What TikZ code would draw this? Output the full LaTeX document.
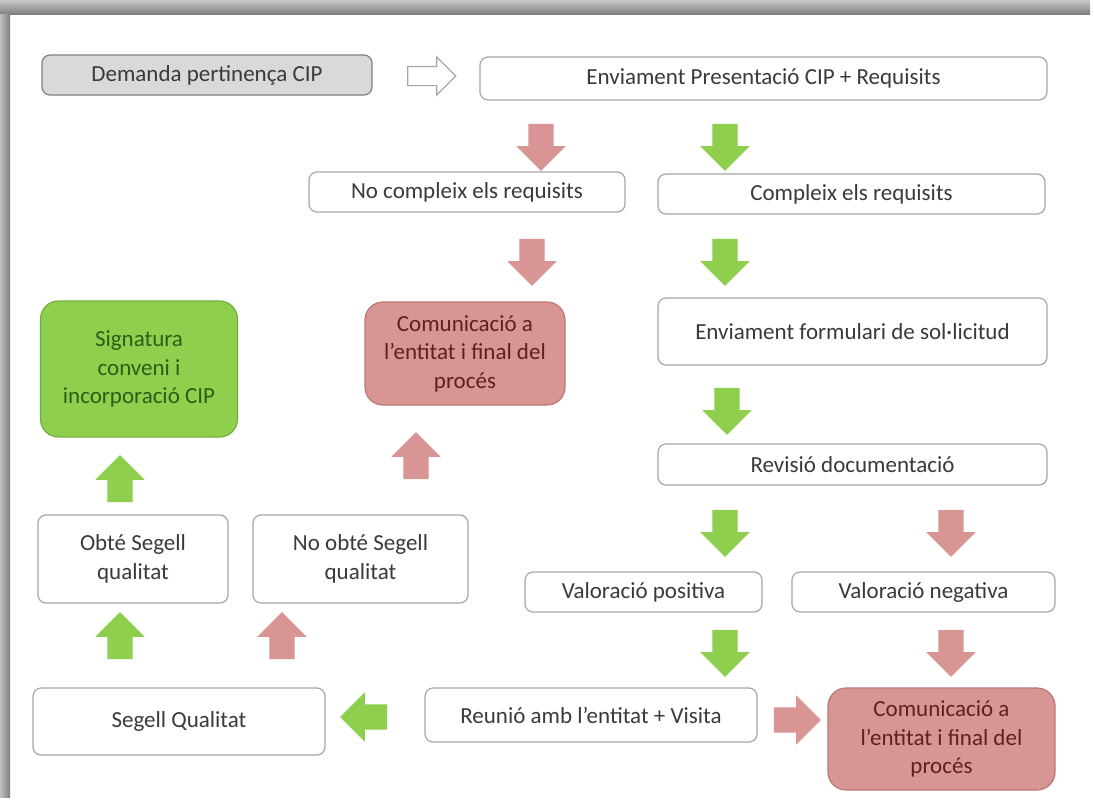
\documentclass[tikz,border=0pt]{standalone}
\usepackage{fontspec}
\setmainfont{Carlito}
\usetikzlibrary{shapes.arrows}
\definecolor{verd}{HTML}{8ECF4E}
\definecolor{verdvora}{HTML}{76AE3E}
\definecolor{verdtext}{HTML}{2B5E16}
\definecolor{vermell}{HTML}{D99594}
\definecolor{vermellvora}{HTML}{BC7776}
\definecolor{vermelltext}{HTML}{5C2120}
\definecolor{vora}{HTML}{A6A6A6}
\definecolor{textgris}{HTML}{3A3A3A}
\definecolor{grisclar}{HTML}{D9D9D9}

\begin{document}
\begin{tikzpicture}[x=1pt,y=-1pt,
    every node/.style={font=\fontsize{23}{28.5}\selectfont, align=center, inner sep=0pt},
    whitebox/.style={draw=vora, line width=1.2pt, rounded corners=8pt, fill=white, text=textgris},
    graybox/.style={draw=gray, line width=1.2pt, rounded corners=8pt, fill=grisclar, text=textgris},
    greenbox/.style={draw=verdvora, line width=1.2pt, rounded corners=18pt, fill=verd, text=verdtext},
    redbox/.style={draw=vermellvora, line width=1.2pt, rounded corners=18pt, fill=vermell, text=vermelltext},
    blockarr/.style={single arrow, inner xsep=0pt, inner ysep=12.5pt, single arrow head extend=12pt, minimum height=47pt},
    garr/.style={blockarr, fill=verd},
    rarr/.style={blockarr, fill=vermell},
    hollowarr/.style={single arrow, draw=vora, line width=1.2pt, fill=white, inner xsep=0pt, inner ysep=9pt, single arrow head extend=9.5pt, minimum height=48pt}]
    \useasboundingbox (0,0) rectangle (1094,803);
    \fill[white] (0,0) rectangle (1094,803);
    \shade[top color=black!22, bottom color=black!50] (0,0) rectangle (1090,14);
    \shade[left color=black!25, right color=black!50] (0,14) rectangle (10,797);

    \node[graybox, minimum width=330pt, minimum height=40pt] (demanda) at (207,75) {Demanda pertinença CIP};
    \node[hollowarr] (fletxa) at (427,76) {};
    \node[whitebox, minimum width=567pt, minimum height=43pt] (enviament) at (763.5,78.5) {Enviament Presentació CIP + Requisits};

    \node[rarr, rotate=-90] (r1) at (541,141) {};
    \node[garr, rotate=-90] (g1) at (725,141) {};
    \node[whitebox, minimum width=316pt, minimum height=40pt] (nocompleix) at (467,192) {No compleix els requisits};
    \node[whitebox, minimum width=387pt, minimum height=40pt] (compleix) at (851.5,194) {Compleix els requisits};
    \node[rarr, rotate=-90] (r2) at (532,256) {};
    \node[garr, rotate=-90] (g2) at (725,256) {};

    \node[greenbox, minimum width=197pt, minimum height=136pt] (signatura) at (139,369) {Signatura\\conveni i\\incorporació CIP};
    \node[redbox, minimum width=200pt, minimum height=103pt] (comunicacio) at (465,353.5) {Comunicació a\\l’entitat i final del\\procés};
    \node[whitebox, minimum width=389pt, minimum height=67pt] (formulari) at (852.5,331.5) {Enviament formulari de sol·licitud};
    \node[garr, rotate=-90] (g3) at (727,405) {};
    \node[whitebox, minimum width=389pt, minimum height=41pt] (revisio) at (852.5,464.5) {Revisió documentació};

    \node[garr, rotate=90] (g4) at (120,485) {};
    \node[rarr, rotate=90] (r4) at (416,462) {};
    \node[whitebox, minimum width=190pt, minimum height=88pt] (obte) at (133,559) {Obté Segell\\qualitat};
    \node[whitebox, minimum width=215pt, minimum height=88pt] (noobte) at (360.5,559) {No obté Segell\\qualitat};
    \node[garr, rotate=-90] (g5) at (725,527) {};
    \node[rarr, rotate=-90] (r5) at (951,527) {};
    \node[whitebox, minimum width=237pt, minimum height=40pt] (positiva) at (643.5,592) {Valoració positiva};
    \node[whitebox, minimum width=263pt, minimum height=40pt] (negativa) at (923.5,592) {Valoració negativa};

    \node[garr, rotate=90] (g6) at (120,642) {};
    \node[rarr, rotate=90] (r6) at (282,642) {};
    \node[garr, rotate=-90] (g7) at (725,647) {};
    \node[rarr, rotate=-90] (r7) at (951,647) {};
    \node[whitebox, minimum width=292pt, minimum height=67pt] (segell) at (179,721.5) {Segell Qualitat};
    \node[garr, rotate=180] (g8) at (370,717) {};
    \node[whitebox, minimum width=332pt, minimum height=54pt] (reunio) at (591,715) {Reunió amb l’entitat + Visita};
    \node[rarr] (r8) at (791,720) {};
    \node[redbox, minimum width=227pt, minimum height=102pt] (comunicacio2) at (941.5,739) {Comunicació a\\l’entitat i final del\\procés};
\end{tikzpicture}
\end{document}
